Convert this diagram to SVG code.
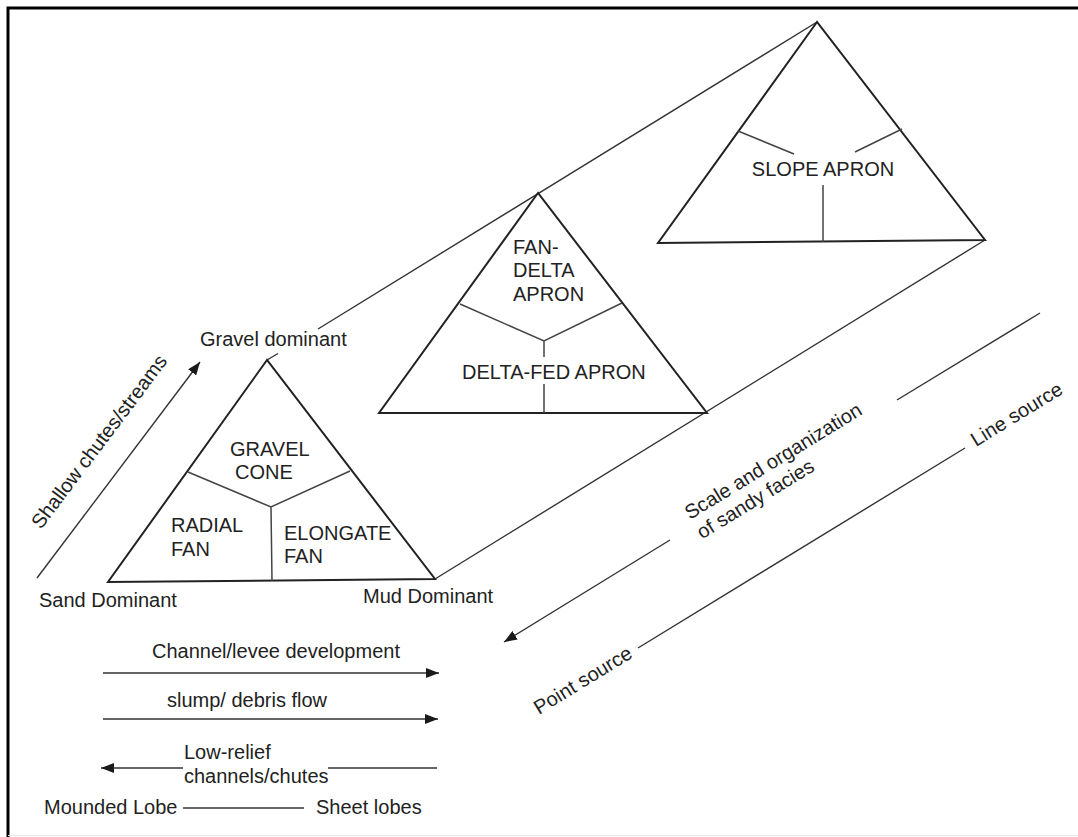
<svg xmlns="http://www.w3.org/2000/svg" width="1078" height="837" viewBox="0 0 1078 837">
  <style>
    text { font-family: "Liberation Sans", Arial, Helvetica, sans-serif; font-size: 20px; fill: #222; }
    .tri { fill: none; stroke: #222; stroke-width: 2; stroke-linejoin: miter; }
    .div { fill: none; stroke: #444; stroke-width: 1.5; }
    .con { fill: none; stroke: #333; stroke-width: 1.4; }
    .arr { fill: none; stroke: #333; stroke-width: 1.4; }
  </style>
  <defs>
    <marker id="ah" viewBox="0 0 13 10" refX="13" refY="5" markerWidth="13" markerHeight="10" orient="auto" markerUnits="userSpaceOnUse">
      <path d="M0,0 L13,5 L0,10 z" fill="#1a1a1a"/>
    </marker>
  </defs>
  <rect x="0" y="0" width="1078" height="837" fill="#ffffff"/>
  <g id="frame">
    <path d="M8,837 V8 H1078" fill="none" stroke="#000" stroke-width="3"/>
    <line x1="8" y1="835.5" x2="1078" y2="835.5" stroke="#e6e6e6" stroke-width="1"/>
  </g>

  <g id="connectors">
    <!-- upper diagonal: apexes -->
    <line class="con" x1="267" y1="360" x2="278" y2="353.5"/>
    <line class="con" x1="318" y1="329" x2="817" y2="22"/>
    <!-- lower diagonal: base-right corners -->
    <line class="con" x1="435" y1="579" x2="985" y2="240"/>
    <!-- shallow chutes arrow -->
    <line class="arr" x1="37" y1="578" x2="200" y2="362" marker-end="url(#ah)"/>
    <!-- scale and organization arrow -->
    <line class="arr" x1="1040" y1="313" x2="897" y2="400"/>
    <line class="arr" x1="670" y1="540" x2="504" y2="642" marker-end="url(#ah)"/>
    <!-- point source to line source -->
    <line class="arr" x1="638" y1="648" x2="965" y2="448"/>
    <!-- horizontal arrows -->
    <line class="arr" x1="103" y1="673" x2="439" y2="673" marker-end="url(#ah)"/>
    <line class="arr" x1="103" y1="719" x2="438" y2="719" marker-end="url(#ah)"/>
    <line class="arr" x1="183" y1="768" x2="101" y2="768" marker-end="url(#ah)"/>
    <line class="arr" x1="328" y1="768" x2="437" y2="768"/>
    <line class="arr" x1="183" y1="808" x2="304" y2="808"/>
  </g>

  <g id="triangle-small">
    <path class="tri" d="M267,360 L108,582 L435,579 Z"/>
    <path class="div" d="M188,472 L271,507 L350,471 M271,507 L272,581"/>
    <text x="230" y="456">GRAVEL</text>
    <text x="235" y="479">CONE</text>
    <text x="171" y="532">RADIAL</text>
    <text x="171" y="556">FAN</text>
    <text x="284" y="540">ELONGATE</text>
    <text x="284" y="563">FAN</text>
  </g>

  <g id="triangle-middle">
    <path class="tri" d="M538,193 L379,413 L707,413 Z"/>
    <path class="div" d="M460,304 L544,341 L622,303 M544,341 L544,357 M544,384 L544,413"/>
    <text x="513" y="254">FAN-</text>
    <text x="513" y="277">DELTA</text>
    <text x="513" y="301">APRON</text>
    <text x="462" y="379">DELTA-FED APRON</text>
  </g>

  <g id="triangle-large">
    <path class="tri" d="M817,22 L658,243 L985,240 Z"/>
    <path class="div" d="M738,131 L794,154 M902,129 L855,152 M823,185 L823,242"/>
    <text x="823" y="176" text-anchor="middle">SLOPE APRON</text>
  </g>

  <g id="labels">
    <text x="200" y="346">Gravel dominant</text>
    <text x="39" y="607">Sand Dominant</text>
    <text x="363" y="603">Mud Dominant</text>
    <text transform="translate(41,530) rotate(-53)">Shallow chutes/streams</text>
    <text transform="translate(690,520) rotate(-31.5)">Scale and organization</text>
    <text transform="translate(690,520) rotate(-31.5)" y="23">of sandy facies</text>
    <text transform="translate(976,447) rotate(-31.5)">Line source</text>
    <text transform="translate(539,715) rotate(-31.5)">Point source</text>
    <text x="152" y="658">Channel/levee development</text>
    <text x="167" y="707">slump/ debris flow</text>
    <text x="184" y="759">Low-relief</text>
    <text x="184" y="783">channels/chutes</text>
    <text x="44" y="814">Mounded Lobe</text>
    <text x="316" y="814">Sheet lobes</text>
  </g>
</svg>
